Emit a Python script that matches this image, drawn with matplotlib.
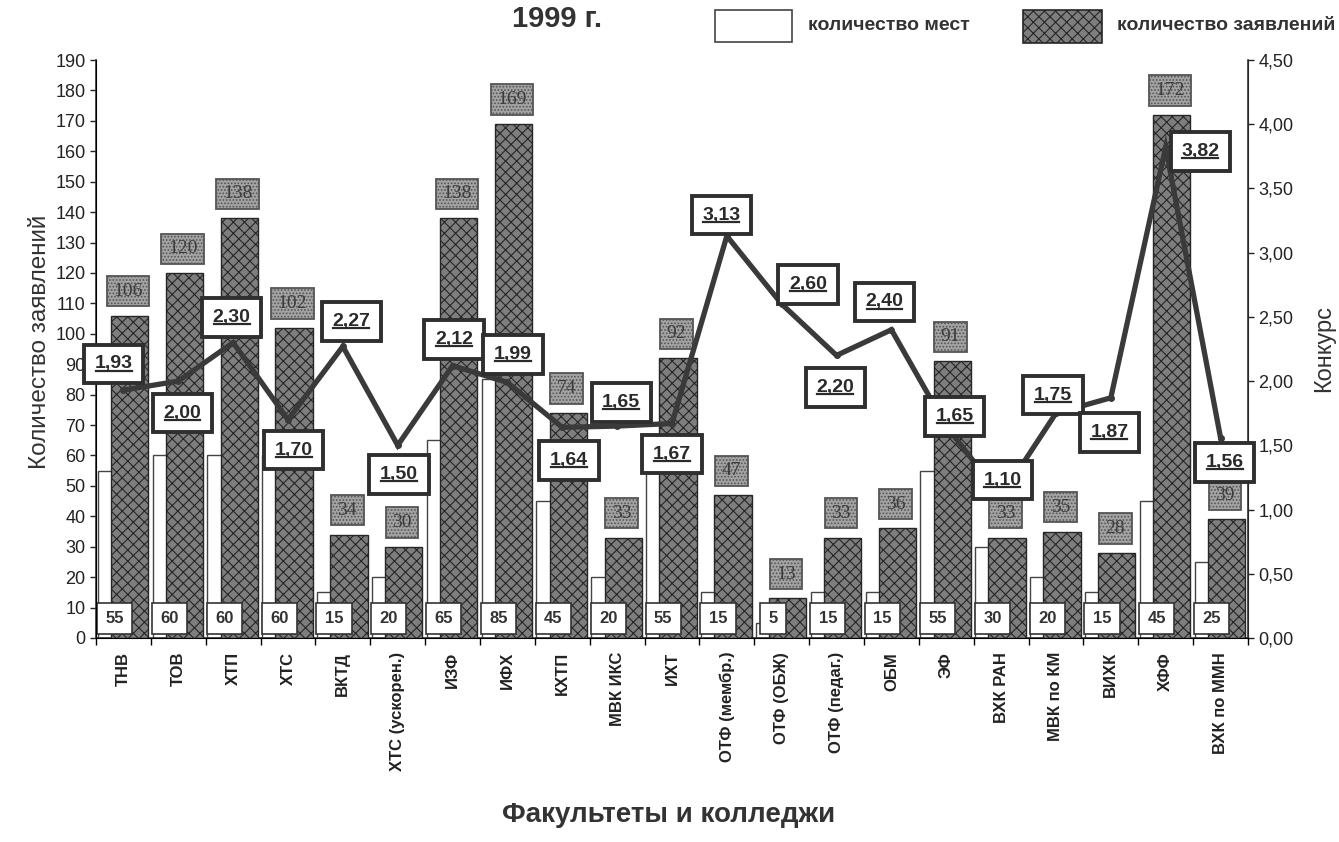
import matplotlib

matplotlib.use("Agg")
import matplotlib.pyplot as plt
import numpy as np
from matplotlib.lines import Line2D
from matplotlib.patches import Rectangle
from matplotlib.ticker import FuncFormatter, MultipleLocator

# Данные 1999 г.
faculties = [
    "ТНВ", "ТОВ", "ХТП", "ХТС", "ВКТД", "ХТС (ускорен.)", "ИЗФ", "ИФХ",
    "КХТП", "МВК ИКС", "ИХТ", "ОТФ (мембр.)", "ОТФ (ОБЖ)", "ОТФ (педаг.)",
    "ОБМ", "ЭФ", "ВХК РАН", "МВК по КМ", "ВИХК", "ХФФ", "ВХК по ММН",
]
places = [55, 60, 60, 60, 15, 20, 65, 85, 45, 20, 55, 15, 5, 15, 15, 55, 30, 20, 15, 45, 25]
applications = [106, 120, 138, 102, 34, 30, 138, 169, 74, 33, 92, 47, 13, 33, 36, 91, 33, 35, 28, 172, 39]
competition = [1.93, 2.00, 2.30, 1.70, 2.27, 1.50, 2.12, 1.99, 1.64, 1.65, 1.67,
               3.13, 2.60, 2.20, 2.40, 1.65, 1.10, 1.75, 1.87, 3.82, 1.56]

# смещения подписей конкурса (в пунктах)
comp_offsets = [
    (-7, 19), (3, -23), (-1, 18), (4, -22), (6, 18), (1, -21), (1, 19),
    (4, 20), (5, -24), (3, 17), (0, -22), (-4, 15), (19, 14), (-1, -23),
    (-5, 20), (6, 7), (1, 12), (-2, 13), (-1, -25), (25, -3), (3, -18),
]

DARK = "#2f2f2f"
BAR_GRAY = "#7e7e7e"

plt.rcParams.update({
    "font.family": ["Liberation Sans", "DejaVu Sans"],
    "hatch.color": "#262626",
    "hatch.linewidth": 0.8,
})


def comma(v, _pos=None):
    return ("%.2f" % v).replace(".", ",")


fig = plt.figure(figsize=(13.39, 8.42), dpi=100)
ax = fig.add_axes([0.0717, 0.2423, 0.8603, 0.6864])
x = np.arange(len(faculties))

ax.bar(x - 0.16, places, width=0.62, color="white", edgecolor="#444444",
       linewidth=1.0, zorder=2)
ax.bar(x + 0.11, applications, width=0.68, color=BAR_GRAY, edgecolor="#262626",
       hatch="xxx", linewidth=1.0, zorder=3)

for xi, v in zip(x, applications):
    ax.annotate(
        str(v), (xi + 0.08, v), xytext=(0, 17.5), textcoords="offset points",
        ha="center", va="center", fontsize=14, color="#3c3c3c",
        family=["Liberation Serif", "DejaVu Serif"], zorder=4,
        bbox=dict(boxstyle="square,pad=0.34", facecolor="#a3a3a3",
                  edgecolor="#555555", linewidth=1.3, hatch="....."),
    )
for xi, v in zip(x, places):
    ax.annotate(
        str(v), (xi - 0.16, 0), xytext=(0, 14), textcoords="offset points",
        ha="center", va="center", fontsize=12, weight="bold", color="#333333",
        zorder=4,
        bbox=dict(boxstyle="square,pad=0.5", facecolor="white",
                  edgecolor="#333333", linewidth=1.2),
    )

ax.set_xlim(-0.5, len(faculties) - 0.5)
ax.set_ylim(0, 190)
ax.yaxis.set_major_locator(MultipleLocator(10))
ax.set_xticks(x)
ax.set_xticklabels(faculties, rotation=90, fontsize=12, weight="bold",
                   color="#222222")
ax.set_xticks(np.arange(-0.5, len(faculties)), minor=True)
ax.tick_params(axis="x", which="major", length=0, pad=10)
ax.tick_params(axis="x", which="minor", length=5, width=1.0, direction="out")
ax.tick_params(axis="y", labelsize=13, length=4, width=1.0, colors="#222222")
ax.spines["top"].set_visible(False)
for side in ("left", "bottom"):
    ax.spines[side].set_color("#333333")
    ax.spines[side].set_linewidth(1.2)

ax2 = ax.twinx()
ax2.set_ylim(0, 4.5)
ax2.yaxis.set_major_locator(MultipleLocator(0.5))
ax2.yaxis.set_major_formatter(FuncFormatter(comma))
ax2.tick_params(axis="y", labelsize=13, length=4, width=1.0, colors="#222222")
ax2.spines["top"].set_visible(False)
ax2.spines["right"].set_color("#333333")
ax2.spines["right"].set_linewidth(1.2)
ax2.plot(x, competition, color="#3a3a3a", lw=3.8, marker="o", ms=4,
         solid_joinstyle="miter", zorder=3)

comp_texts = []
for xi, v, (dx, dy) in zip(x, competition, comp_offsets):
    t = ax2.annotate(
        comma(v), (xi, v), xytext=(dx, dy), textcoords="offset points",
        ha="center", va="center", fontsize=14, weight="bold", color="#2a2a2a",
        zorder=6,
        bbox=dict(boxstyle="square,pad=0.55", facecolor="white",
                  edgecolor=DARK, linewidth=2.8),
    )
    comp_texts.append(t)

# заголовок, легенда и подписи осей
fig.text(0.416, 0.977, "1999 г.", ha="center", va="center", fontsize=21,
         weight="bold", color="#333333")
fig.add_artist(Rectangle((0.534, 0.950), 0.0575, 0.038, transform=fig.transFigure,
                         facecolor="white", edgecolor="#444444", linewidth=1.2))
fig.text(0.6034, 0.970, "количество мест", ha="left", va="center",
         fontsize=14, weight="bold", color="#333333")
fig.add_artist(Rectangle((0.764, 0.949), 0.059, 0.039, transform=fig.transFigure,
                         facecolor=BAR_GRAY, edgecolor="#262626", hatch="xxx",
                         linewidth=1.2))
fig.text(0.834, 0.970, "количество заявлений", ha="left", va="center",
         fontsize=14, weight="bold", color="#333333")

fig.text(0.030, 0.594, "Количество заявлений", rotation=90, ha="center",
         va="center", fontsize=17.5, color="#333333")
fig.text(0.989, 0.586, "Конкурс", rotation=90, ha="center", va="center",
         fontsize=17, color="#333333")
fig.text(0.499, 0.032, "Факультеты и колледжи", ha="center", va="center",
         fontsize=20, weight="bold", color="#333333")

# подчёркивание подписей конкурса
fig.canvas.draw()
renderer = fig.canvas.get_renderer()
inv = fig.transFigure.inverted()
for t in comp_texts:
    bb = t.get_window_extent(renderer)
    y = bb.y0 + 0.1 * bb.height
    (fx0, fy), (fx1, _) = inv.transform([(bb.x0 + 1, y), (bb.x1 - 1, y)])
    fig.add_artist(Line2D([fx0, fx1], [fy, fy], transform=fig.transFigure,
                          color="#2a2a2a", lw=1.6, zorder=10))

fig.savefig("out.png", dpi=100, facecolor="white")
